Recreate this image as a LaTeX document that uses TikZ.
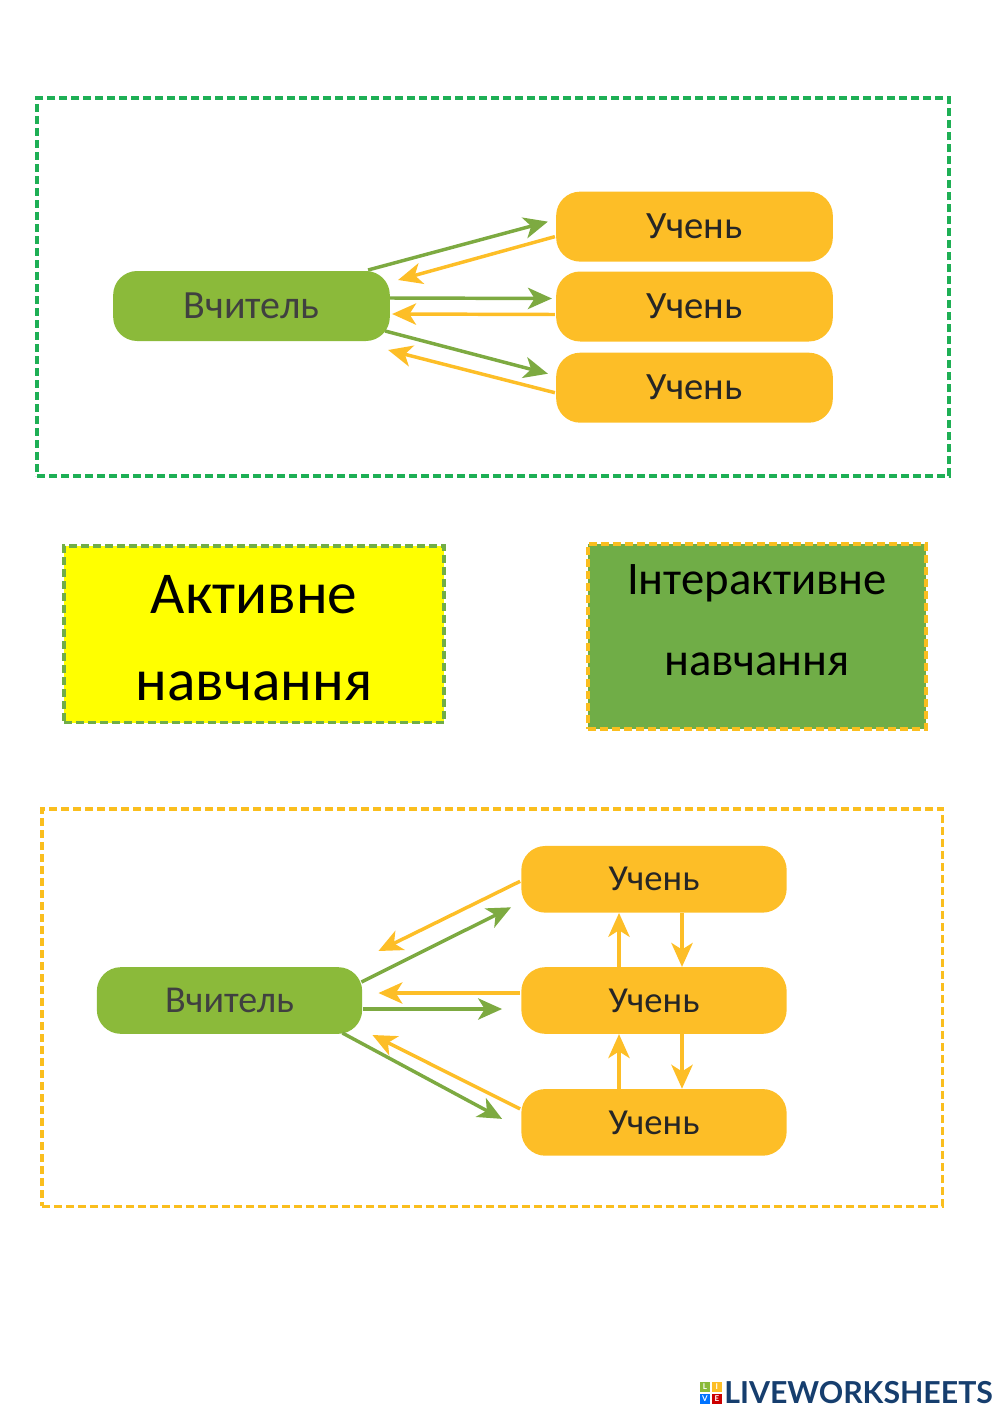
\documentclass[tikz,border=0pt]{standalone}
\usepackage{fontspec}
\setmainfont{Carlito}
\newfontfamily\logofont{Lato}
\usetikzlibrary{arrows.meta,positioning}
\definecolor{uigreen}{RGB}{139, 186, 58}
\definecolor{uiyellow}{RGB}{253, 190, 39}
\definecolor{framegreen}{RGB}{30, 175, 85}
\definecolor{frameyellow}{RGB}{250, 190, 30}
\definecolor{boxgreen}{RGB}{112, 173, 71}
\definecolor{boxyellow}{RGB}{255, 255, 0}
\definecolor{arrowgreen}{RGB}{125, 170, 65}
\definecolor{logoblue}{RGB}{22, 62, 110}

\begin{document}
\begin{tikzpicture}[x=0.75pt, y=-0.75pt,
        tcharA/.style={draw=none, fill=uigreen, rounded corners=18pt, minimum width=207.5pt, minimum height=52.5pt, inner sep=0pt, font=\fontsize{30}{34}\selectfont, text=black!75},
        stuA/.style={draw=none, fill=uiyellow, rounded corners=18pt, minimum width=207.5pt, minimum height=52.5pt, inner sep=0pt, font=\fontsize{29}{34}\selectfont, text=black!85},
        tcharB/.style={tcharA, minimum width=199pt, minimum height=50pt, font=\fontsize{28.5}{34}\selectfont},
        stuB/.style={stuA, minimum width=199pt, minimum height=50pt, font=\fontsize{27.5}{34}\selectfont},
        togreen/.style={-{Stealth[length=18pt, width=16pt, inset=5pt]}, draw=arrowgreen, fill=arrowgreen, line width=2.6pt},
        toyellow/.style={-{Stealth[length=18pt, width=16pt, inset=5pt]}, draw=uiyellow, fill=uiyellow, line width=2.6pt},
        framebox/.style={dash pattern=on 6pt off 3pt, outer sep=0pt, inner sep=0pt, anchor=north west},
        logosq/.style={minimum size=8pt, inner sep=0pt, text=white, font=\logofont\bfseries\fontsize{6}{6}\selectfont}]
        \useasboundingbox (0,0) rectangle (1000,1413);

        % Top frame
        \node[framebox, draw=framegreen, line width=2.6pt, minimum width=684pt, minimum height=283.5pt] (frameA) at (37,98) {};
        \node[tcharA] (tchA) at (251.5,306) {Вчитель};
        \node[stuA] (stuA2) at (694.5,306.5) {Учень};
        \node[stuA, above=7pt of stuA2] (stuA1) {Учень};
        \node[stuA, below=8pt of stuA2] (stuA3) {Учень};
        \draw[togreen] ([shift={(-22,-36)}]tchA.east) -- ([shift={(-8,-5)}]stuA1.west);
        \draw[toyellow] ([shift={(-1,10)}]stuA1.west) -- ([shift={(8,-26)}]tchA.east);
        \draw[togreen] ([shift={(0,-8)}]tchA.east) -- ([shift={(-4,-8)}]stuA2.west);
        \draw[toyellow] ([shift={(-1,8)}]stuA2.west) -- ([shift={(2,8)}]tchA.east);
        \draw[togreen] ([shift={(-5,25)}]tchA.east) -- ([shift={(-8,-14)}]stuA3.west);
        \draw[toyellow] ([shift={(-1,5)}]stuA3.west) -- ([shift={(-2,44)}]tchA.east);

        % Middle boxes
        \node[framebox, draw=boxgreen, line width=2.6pt, fill=boxyellow, minimum width=285pt, minimum height=132.5pt] (boxA) at (64,546) {};
        \node[align=center, font=\fontsize{44.5}{65}\selectfont] (txtA) at ([yshift=-3]boxA.center) {Активне\\навчання};
        \node[framebox, draw=frameyellow, line width=3pt, fill=boxgreen, minimum width=253.5pt, minimum height=138.5pt] (boxB) at (588,544) {};
        \node[align=center, font=\fontsize{35}{60.5}\selectfont] (txtB) at ([yshift=12]boxB.center) {Інтерактивне\\навчання};

        % Bottom frame
        \node[framebox, draw=frameyellow, line width=2.6pt, minimum width=675.5pt, minimum height=298pt] (frameB) at (42,809) {};
        \node[tcharB] (tchB) at (229.5,1000.5) {Вчитель};
        \node[stuB] (stuB2) at (654,1000.5) {Учень};
        \node[stuB, above=40.5pt of stuB2] (stuB1) {Учень};
        \node[stuB, below=41pt of stuB2] (stuB3) {Учень};
        \draw[toyellow] ([shift={(-1,2)}]stuB1.west) -- ([shift={(16,-49.5)}]tchB.east);
        \draw[togreen] ([shift={(-1,-18.5)}]tchB.east) -- ([shift={(-10,28)}]stuB1.west);
        \draw[toyellow] ([shift={(-1,-7.5)}]stuB2.west) -- ([shift={(16,-7.5)}]tchB.east);
        \draw[togreen] ([shift={(1,8.5)}]tchB.east) -- ([shift={(-19,8.5)}]stuB2.west);
        \draw[toyellow] ([shift={(-1,-13.5)}]stuB3.west) -- ([shift={(10,34.5)}]tchB.east);
        \draw[togreen] ([shift={(-20,32.5)}]tchB.east) -- ([shift={(-19,-3.5)}]stuB3.west);
        \draw[toyellow] ([xshift=-26.25pt]stuB2.north) -- ([xshift=-26.25pt]stuB1.south);
        \draw[toyellow] ([xshift=21pt]stuB1.south) -- ([xshift=21pt]stuB2.north);
        \draw[toyellow] ([xshift=-26.25pt]stuB3.north) -- ([xshift=-26.25pt]stuB2.south);
        \draw[toyellow] ([xshift=21pt]stuB2.south) -- ([xshift=21pt]stuB3.north);

        % Logo
        \node[logosq, fill=uigreen] (logoL) at (705,1387) {L};
        \node[logosq, fill=uiyellow, right=0.5pt of logoL] (logoI) {I};
        \node[logosq, fill=blue!55!cyan, below=0.5pt of logoL] (logoV) {V};
        \node[logosq, fill=red!80!black, right=0.5pt of logoV] (logoE) {E};
        \node[anchor=west, inner sep=0pt, text=logoblue, font=\logofont\bfseries\fontsize{22.7}{25}\selectfont] (logo) at (724,1392.5) {LIVEWORKSHEETS};
    \end{tikzpicture}
\end{document}
